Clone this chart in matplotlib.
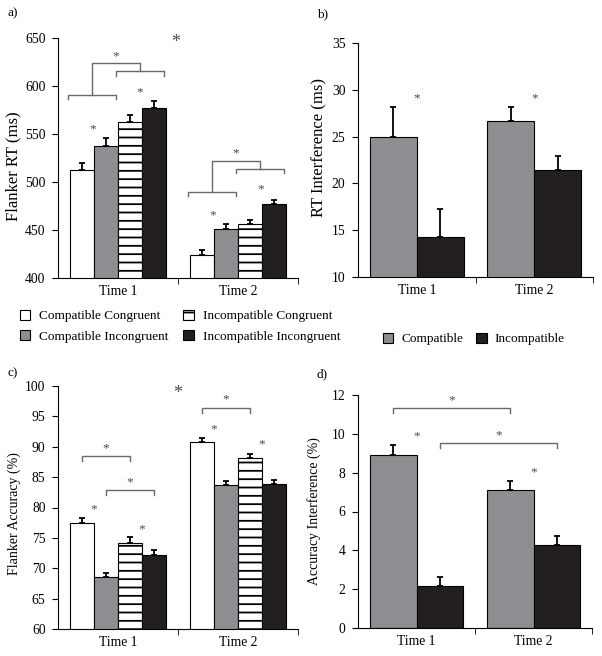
import numpy as np
import matplotlib.pyplot as plt
from matplotlib import font_manager

# pick a Times-like serif that is actually installed
installed = set(f.name for f in font_manager.fontManager.ttflist)
serif = [f for f in ['Liberation Serif', 'Tinos', 'Times New Roman', 'Nimbus Roman',
                     'TeX Gyre Termes', 'STIXGeneral'] if f in installed]
plt.rcParams['font.family'] = serif[:1] + ['DejaVu Serif']
plt.rcParams['font.size'] = 9.5
plt.rcParams['hatch.linewidth'] = 1.3

# ---- data ----
times = ['Time 1', 'Time 2']
conds = ['Compatible Congruent', 'Compatible Incongruent',
         'Incompatible Congruent', 'Incompatible Incongruent']
groups = ['Compatible', 'Incompatible']

# a) flanker RT (ms), one row per condition, columns = Time 1, Time 2
rt_mean = [[513, 424], [538, 451], [563, 456], [577, 477]]
rt_err = [[7, 5], [7.5, 5], [7, 4], [7.5, 4.5]]

# b) RT interference (ms), rows = compatible, incompatible
rti_mean = [[25.0, 26.7], [14.3, 21.4]]
rti_err = [[3.2, 1.5], [3.0, 1.5]]

# c) flanker accuracy (%)
acc_mean = [[77.4, 90.8], [68.5, 83.7], [74.2, 88.1], [72.1, 83.8]]
acc_err = [[0.8, 0.6], [0.8, 0.7], [0.9, 0.7], [0.9, 0.8]]

# d) accuracy interference (%)
acci_mean = [[8.9, 7.1], [2.15, 4.3]]
acci_err = [[0.5, 0.45], [0.5, 0.43]]

GREY = '#8d8e92'
BLACK = '#231f20'
LINE = '#6a6a6a'
STAR = '#4a4a4a'

fill4 = ['white', GREY, 'white', BLACK]
hatch4 = [None, None, '--', None]
fill2 = [GREY, BLACK]


def style_ax(ax, ylim, yticks):
    ax.set_xlim(-0.5, 1.5)
    ax.set_ylim(*ylim)
    ax.set_yticks(yticks)
    ax.set_xticks([0, 1])
    ax.set_xticklabels(times)
    ax.set_xticks([0.5, 1.5], minor=True)
    ax.tick_params(axis='both', labelsize=9.8)
    ax.tick_params(axis='x', which='major', length=0, pad=5)
    ax.tick_params(axis='x', which='minor', length=4.5, direction='out')
    ax.tick_params(axis='y', length=4.5, direction='out', pad=4.5)
    for s in ['top', 'right']:
        ax.spines[s].set_visible(False)


def draw_bars(ax, means, errs, colors, hatches, width):
    n = len(means)
    offs = (np.arange(n) - (n - 1) / 2) * width
    handles = []
    for i in range(n):
        x = np.arange(2) + offs[i]
        b = ax.bar(x, means[i], width, color=colors[i], edgecolor='black',
                   hatch=hatches[i], linewidth=0.8, zorder=2)
        ax.errorbar(x, means[i], yerr=[np.zeros(2), errs[i]], fmt='none',
                    ecolor='black', elinewidth=1.3, capsize=2, capthick=1.3, zorder=3)
        handles.append(b)
    return handles


def bracket(ax, x0, x1, y, h):
    ax.plot([x0, x0, x1, x1], [y - h, y, y, y - h], color=LINE, lw=1, zorder=4)


def star(ax, x, y, size=9.5):
    # y is the visual centre of the asterisk
    ax.annotate('*', (x, y), xytext=(0, -size * 0.47), textcoords='offset points',
                ha='center', va='baseline', fontsize=size, color=STAR)


fig = plt.figure(figsize=(6.02, 6.56), dpi=100)
W, H = 602.0, 656.0


def add_ax(x0, y0, x1, y1):
    return fig.add_axes([x0 / W, 1 - y1 / H, (x1 - x0) / W, (y1 - y0) / H])


# ---- a) ----
ax = add_ax(58, 38, 298, 278)
h4 = draw_bars(ax, rt_mean, rt_err, fill4, hatch4, 0.2)
style_ax(ax, (400, 650), np.arange(400, 651, 50))
ax.set_ylabel('Flanker RT (ms)', fontsize=12)
ax.yaxis.set_label_coords(-0.154, 0.467)
for t in [0, 1]:
    bracket(ax, t - 0.42, t - 0.02, 590.8 if t == 0 else 489.8, 4.5)
    bracket(ax, t - 0.02, t + 0.38, 615.2 if t == 0 else 513.5, 4.5)
ax.plot([-0.22, -0.22, 0.18, 0.18], [590.8, 623.9, 623.9, 615.2], color=LINE, lw=1)
ax.plot([0.78, 0.78, 1.18, 1.18], [489.8, 522.2, 522.2, 513.5], color=LINE, lw=1)
star(ax, -0.02, 634.3)
star(ax, 0.98, 533.4)
star(ax, -0.21, 558.4)
star(ax, 0.18, 596.7)
star(ax, 0.79, 469)
star(ax, 1.19, 496)
star(ax, 0.48, 649, size=13)

# ---- b) ----
ax = add_ax(358, 43, 593, 277)
h2 = draw_bars(ax, rti_mean, rti_err, fill2, [None, None], 0.4)
style_ax(ax, (10, 35), np.arange(10, 36, 5))
ax.set_ylabel('RT Interference (ms)', fontsize=12)
ax.yaxis.set_label_coords(-0.132, 0.553)
star(ax, 0.0, 29.4)
star(ax, 1.0, 29.4)

# ---- c) ----
ax = add_ax(58, 386, 298, 629)
draw_bars(ax, acc_mean, acc_err, fill4, hatch4, 0.2)
style_ax(ax, (60, 100), np.arange(60, 101, 5))
ax.set_ylabel('Flanker Accuracy (%)', fontsize=10)
ax.yaxis.set_label_coords(-0.154, 0.477)
bracket(ax, -0.3, 0.1, 88.4, 0.7)
bracket(ax, -0.1, 0.3, 82.8, 0.7)
bracket(ax, 0.7, 1.1, 96.3, 0.7)
star(ax, -0.1, 90.3)
star(ax, 0.1, 84.7)
star(ax, -0.2, 80.2)
star(ax, 0.2, 77.0)
star(ax, 0.9, 98.4)
star(ax, 0.8, 93.4)
star(ax, 1.2, 90.9)
star(ax, 0.5, 99.4, size=13)

# ---- d) ----
ax = add_ax(358, 395, 592, 628)
draw_bars(ax, acci_mean, acci_err, fill2, [None, None], 0.4)
style_ax(ax, (0, 12), np.arange(0, 13, 2))
ax.set_ylabel('Accuracy Interference (%)', fontsize=10)
ax.yaxis.set_label_coords(-0.158, 0.5)
bracket(ax, -0.2, 0.8, 11.31, 0.22)
bracket(ax, 0.2, 1.2, 9.51, 0.22)
star(ax, 0.3, 11.88)
star(ax, 0.7, 10.1)
star(ax, 0.0, 10.06)
star(ax, 1.0, 8.2)

# ---- legends and panel letters ----
fig.legend(h4, conds, ncol=2, loc='upper left', bbox_to_anchor=(13 / W, 1 - 303 / H),
           frameon=False, borderpad=0, handlelength=0.8, handleheight=0.8,
           handletextpad=0.7, columnspacing=1.1, labelspacing=0.6)
fig.legend(h2, groups, ncol=2, loc='upper left', bbox_to_anchor=(376 / W, 1 - 326 / H),
           frameon=False, borderpad=0, handlelength=0.8, handleheight=0.8,
           handletextpad=0.6, columnspacing=1.0)

for lab, x, y in [('a)', 8, 13), ('b)', 317, 14), ('c)', 8, 373), ('d)', 317, 374)]:
    fig.text(x / W, 1 - y / H, lab, va='center')

fig.savefig('out.png', dpi=100)
